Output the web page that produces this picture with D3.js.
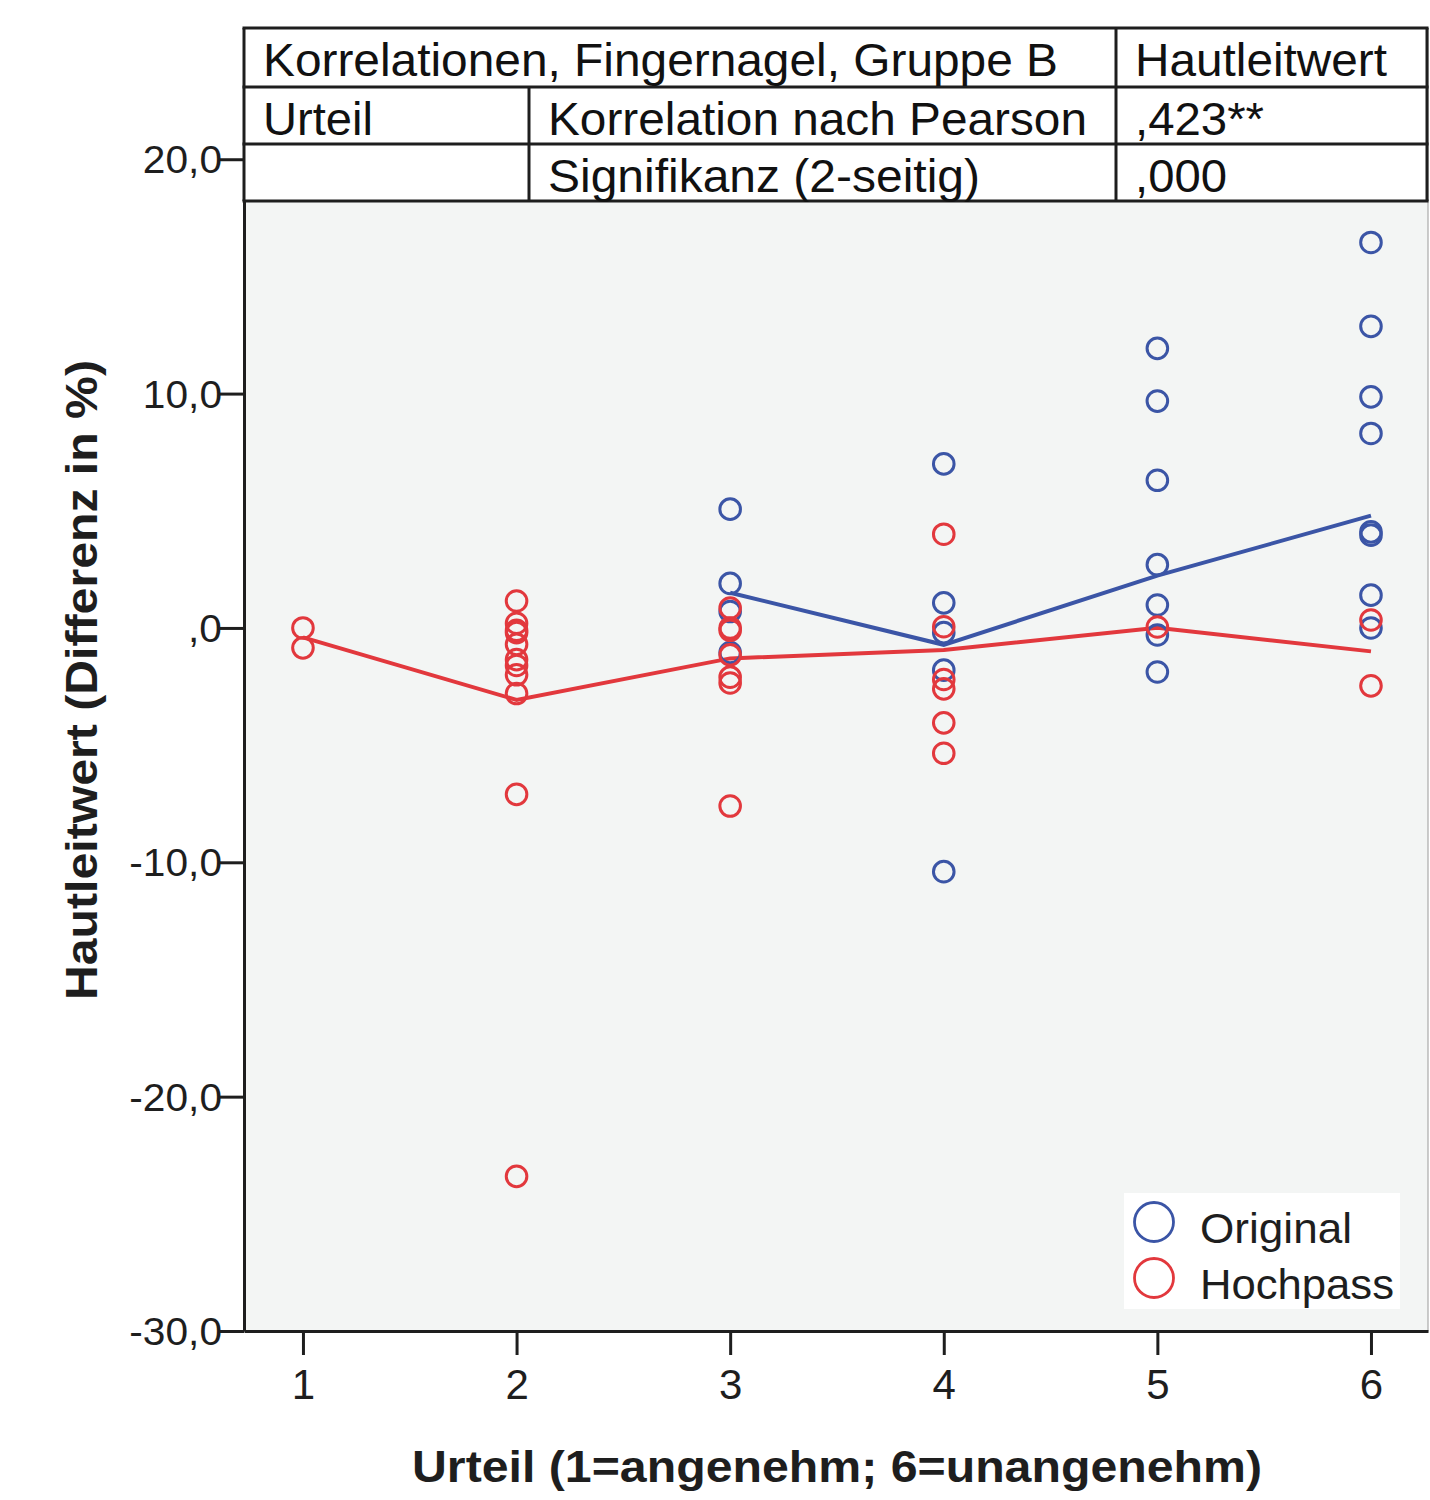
<!DOCTYPE html>
<html>
<head>
<meta charset="utf-8">
<script src="https://cdn.jsdelivr.net/npm/d3@7"></script>
<style>
  body { margin: 0; background: #fff; }
  svg { display: block; font-family: "Liberation Sans", Arial, sans-serif; }
</style>
</head>
<body>
<div id="chart"></div>
<script>
// categories on the x axis
const urteil = [1, 2, 3, 4, 5, 6];
const yTicks = [-30, -20, -10, 0, 10, 20];

// scatter points, [urteil, value]
const originalPoints = [
  [3, 5.07], [3, 1.9], [3, 0.7], [3, -1.05],
  [4, 7.0], [4, 1.07], [4, -0.2], [4, -1.8], [4, -10.4],
  [5, 11.93], [5, 9.68], [5, 6.3], [5, 2.7], [5, 0.98], [5, -0.3], [5, -1.88],
  [6, 16.45], [6, 12.87], [6, 9.86], [6, 8.3], [6, 4.1], [6, 3.96], [6, 1.4], [6, 0.0]
];
const hochpassPoints = [
  [1, 0.0], [1, -0.85],
  [2, 1.15], [2, 0.2], [2, -0.1], [2, -0.2], [2, -0.7], [2, -1.35], [2, -1.6], [2, -2.0], [2, -2.8], [2, -7.1], [2, -23.4],
  [3, 0.85], [3, 0.0], [3, -0.1], [3, -1.15], [3, -2.1], [3, -2.35], [3, -7.6],
  [4, 4.0], [4, 0.05], [4, -2.2], [4, -2.6], [4, -4.05], [4, -5.35],
  [5, 0.04],
  [6, 0.34], [6, -2.47]
];

// mean lines per category
const originalMeanX = [3, 4, 5, 6];
const originalMean = [1.5, -0.72, 2.23, 4.79];
const hochpassMeanX = [1, 2, 3, 4, 5, 6];
const hochpassMean = [-0.4, -3.07, -1.3, -0.94, 0.01, -1.0];

// table text
const tableRows = [
  ['Korrelationen, Fingernagel, Gruppe B', '', 'Hautleitwert'],
  ['Urteil', 'Korrelation nach Pearson', ',423**'],
  ['', 'Signifikanz (2-seitig)', ',000']
];
const legendLabels = ['Original', 'Hochpass'];

const blue = '#3b55a6';
const red = '#e2383d';
const ink = '#1e1e1e';

const width = 1430, height = 1500;
const plot = { left: 244, right: 1428, top: 28, bottom: 1331 };

const svg = d3.select('#chart').append('svg')
  .attr('width', width).attr('height', height);

const xScale = d3.scaleLinear().domain([0.724, 6.267]).range([plot.left, plot.right]);
const yScale = d3.scaleLinear().domain([-30, 25.6]).range([plot.bottom, plot.top]);

const fmt = (d) => (d === 0 ? ',0' : d.toFixed(1).replace('.', ','));

// fit a text element to a measured width
function fit(sel, w) {
  sel.attr('textLength', w).attr('lengthAdjust', 'spacingAndGlyphs');
}

// plot background
svg.append('rect')
  .attr('x', plot.left).attr('y', plot.top)
  .attr('width', plot.right - plot.left).attr('height', plot.bottom - plot.top)
  .attr('fill', '#f3f5f4')
  .attr('stroke', '#9a9a9a').attr('stroke-width', 1);

// axes
const yAxis = svg.append('g')
  .attr('transform', `translate(${plot.left},0)`)
  .call(d3.axisLeft(yScale).tickValues(yTicks).tickFormat(fmt).tickSize(24).tickSizeOuter(0).tickPadding(0));
const xAxis = svg.append('g')
  .attr('transform', `translate(0,${plot.bottom})`)
  .call(d3.axisBottom(xScale).tickValues(urteil).tickFormat(d3.format('d')).tickSize(24).tickSizeOuter(0).tickPadding(14));

[yAxis, xAxis].forEach((g) => {
  g.select('.domain').attr('stroke', ink).attr('stroke-width', 3);
  g.selectAll('.tick line').attr('stroke', ink).attr('stroke-width', 3);
  g.selectAll('.tick text').attr('fill', ink)
    .style('font-family', '"Liberation Sans", Arial, sans-serif');
});
yAxis.selectAll('.tick text').attr('x', -22).attr('dy', '0.36em').style('font-size', '38px')
  .each(function () {
    const t = d3.select(this);
    t.attr('textLength', this.getComputedTextLength() * 1.07).attr('lengthAdjust', 'spacingAndGlyphs');
  });
xAxis.selectAll('.tick text').attr('dy', '0.71em').style('font-size', '42px');

// axis titles
svg.append('text')
  .attr('x', 412).attr('y', 1482)
  .style('font-size', '45px').style('font-weight', 'bold').attr('fill', ink)
  .text('Urteil (1=angenehm; 6=unangenehm)')
  .call(fit, 850);
svg.append('text')
  .attr('transform', 'translate(97,1000) rotate(-90)')
  .style('font-size', '45px').style('font-weight', 'bold').attr('fill', ink)
  .text('Hautleitwert (Differenz in %)')
  .call(fit, 640);

// mean lines
const line = d3.line().x((d) => xScale(d[0])).y((d) => yScale(d[1]));
svg.append('path')
  .datum(hochpassMeanX.map((x, i) => [x, hochpassMean[i]]))
  .attr('d', line).attr('fill', 'none').attr('stroke', red).attr('stroke-width', 4);
svg.append('path')
  .datum(originalMeanX.map((x, i) => [x, originalMean[i]]))
  .attr('d', line).attr('fill', 'none').attr('stroke', blue).attr('stroke-width', 4);

// points
function drawPoints(points, color) {
  svg.append('g').selectAll('circle')
    .data(points)
    .join('circle')
    .attr('cx', (d) => xScale(d[0]))
    .attr('cy', (d) => yScale(d[1]))
    .attr('r', 10.3)
    .attr('fill', 'none')
    .attr('stroke', color)
    .attr('stroke-width', 3);
}
drawPoints(originalPoints, blue);
drawPoints(hochpassPoints, red);

// legend
const legend = svg.append('g');
legend.append('rect')
  .attr('x', 1124).attr('y', 1193).attr('width', 276).attr('height', 116)
  .attr('fill', '#fff');
const legendWidths = [152, 194];
legendLabels.forEach((label, i) => {
  legend.append('circle')
    .attr('cx', 1154).attr('cy', 1222 + i * 56).attr('r', 19.5)
    .attr('fill', 'none').attr('stroke', i === 0 ? blue : red).attr('stroke-width', 2.8);
  legend.append('text')
    .attr('x', 1200).attr('y', 1243 + i * 56)
    .style('font-size', '42px').attr('fill', ink)
    .text(label)
    .call(fit, legendWidths[i]);
});

// correlation table over the top of the plot
const table = svg.append('g');
const rowY = [28, 87, 144, 201];
const colX = [244, 529, 1116, 1427];
table.append('rect')
  .attr('x', colX[0]).attr('y', rowY[0])
  .attr('width', colX[3] - colX[0]).attr('height', rowY[3] - rowY[0])
  .attr('fill', '#fff');
const tl = (x1, y1, x2, y2) => table.append('line')
  .attr('x1', x1).attr('y1', y1).attr('x2', x2).attr('y2', y2)
  .attr('stroke', ink).attr('stroke-width', 3);
rowY.forEach((y) => tl(colX[0] - 1.5, y, colX[3] + 1.5, y));
tl(colX[0], rowY[0], colX[0], rowY[3]);
tl(colX[3], rowY[0], colX[3], rowY[3]);
tl(colX[2], rowY[0], colX[2], rowY[3]);
tl(colX[1], rowY[1], colX[1], rowY[3]);

// measured widths of the cell texts in the picture
const cellWidths = [
  [795, 0, 252],
  [110, 539, 129],
  [0, 432, 92]
];
tableRows.forEach((row, r) => {
  row.forEach((cell, c) => {
    if (!cell) return;
    table.append('text')
      .attr('x', colX[c] + 19)
      .attr('y', rowY[r] + 48)
      .style('font-size', '46px').attr('fill', '#111')
      .text(cell)
      .call(fit, cellWidths[r][c]);
  });
});
</script>
</body>
</html>
